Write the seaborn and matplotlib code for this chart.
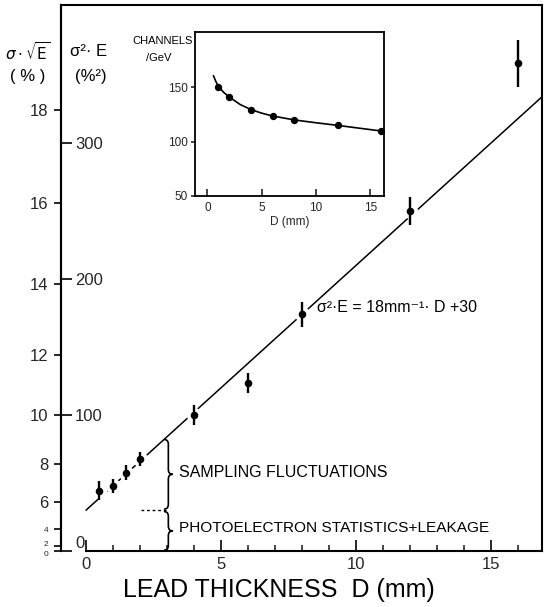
import numpy as np
import matplotlib
matplotlib.use("Agg")
import matplotlib.pyplot as plt
from matplotlib.path import Path
from matplotlib.patches import PathPatch
import seaborn as sns

# ---------------- data ----------------
lead_mm = [0.5, 1.0, 1.5, 2.0, 4.0, 6.0, 8.0, 12.0, 16.0]
sigma2E = [44.3, 47.8, 57.6, 67.6, 100.0, 123.8, 174.0, 250.0, 358.6]
sigma2E_err = [7.0, 5.5, 5.6, 5.2, 7.4, 7.4, 9.2, 10.0, 17.3]

fit_mm = [0.0, 16.89]
fit_sigma2E = [30.0, 334.0]

inset_mm = [1, 2, 4, 6, 8, 12, 16]
inset_channels = [150.0, 140.8, 129.1, 123.3, 119.7, 114.7, 109.5]
inset_curve_mm = [0.55, 0.75, 1.0, 1.5, 2.0, 3.0, 4.0, 5.0, 6.0, 8.0, 10.0, 12.0, 14.0, 16.2]
inset_curve_ch = [160.4, 155.5, 150.5, 145.0, 140.9, 134.0, 129.3, 126.0, 123.4,
                  119.8, 117.2, 114.8, 112.2, 109.4]

x_major = [0, 5, 10, 15]
x_minor = list(range(0, 17))
sqrtE_ticks = [0, 2, 4, 6, 8, 10, 12, 14, 16, 18]
sigma2E_ticks = [0, 100, 200, 300]
inset_xticks = [0, 5, 10, 15]
inset_yticks = [50, 100, 150]

# ---------------- style ----------------
sns.set_style("ticks")
plt.rcParams["font.family"] = ["Liberation Sans", "DejaVu Sans"]
plt.rcParams["mathtext.fontset"] = "dejavusans"
plt.rcParams["text.color"] = "black"
plt.rcParams["axes.edgecolor"] = "black"

W, H = 549, 607
fig = plt.figure(figsize=(W / 100, H / 100), dpi=100)
fig.patch.set_facecolor("white")


def fx(px):
    return px / W


def fy(py):
    return 1 - py / H


# ---------------- main axes ----------------
ax = fig.add_axes([fx(61), fy(551), (542 - 61) / W, (551 - 5) / H])
ax.set_xlim(-0.926, 16.89)
ax.set_ylim(0, 401.5)
for s in ax.spines.values():
    s.set_linewidth(1.5)
    s.set_color("black")
ax.spines["bottom"].set_bounds(0, 16.89)

# fit line
sns.lineplot(x=fit_mm, y=fit_sigma2E, ax=ax, color="black", linewidth=1.1,
             sort=False, estimator=None, zorder=2)
# white halo to break the line around points
ax.scatter(lead_mm, sigma2E, s=120, color="white", linewidths=0, zorder=3)
ax.errorbar(lead_mm, sigma2E, yerr=sigma2E_err, fmt="none", ecolor="black",
            elinewidth=1.7, capsize=0, zorder=4)
sns.scatterplot(x=lead_mm, y=sigma2E, ax=ax, color="black", s=30,
                edgecolor="black", linewidth=0, zorder=5)

# x axis ticks
ax.set_xticks(x_major)
ax.set_xticks(x_minor, minor=True)
ax.set_xticklabels([str(v) for v in x_major])
ax.tick_params(axis="x", which="major", direction="in", length=8, width=1.4,
               pad=4, labelsize=12, top=False)
ax.tick_params(axis="x", which="minor", direction="in", length=4, width=1.2, top=False)

# sigma^2 E axis (inner ticks on the left spine)
ax.set_yticks(sigma2E_ticks)
ax.set_yticklabels([str(v) for v in sigma2E_ticks])
ax.tick_params(axis="y", direction="in", length=8, width=1.4, pad=-10,
               labelsize=12, right=False)
for t, v in zip(ax.get_yticklabels(), sigma2E_ticks):
    t.set_horizontalalignment("left")
    if v == 0:
        t.set_verticalalignment("bottom")


def fwd(v):
    v = np.asarray(v, float)
    return np.sign(v) * np.sqrt(np.abs(v))


def inv(v):
    v = np.asarray(v, float)
    return np.sign(v) * v ** 2


sec = ax.secondary_yaxis("left", functions=(fwd, inv))
sec.set_yticks(sqrtE_ticks)
sec.set_yticklabels([str(v) for v in sqrtE_ticks])
sec.tick_params(direction="out", length=5, width=1.4, pad=4, labelsize=12)
sec.spines["left"].set_linewidth(1.5)
for t, v in zip(sec.get_yticklabels(), sqrtE_ticks):
    if v <= 4:
        t.set_fontsize(6)
    if v == 0:
        t.set_verticalalignment("top")
    if v == 2:
        t.set_verticalalignment("baseline")


# braces
def brace(axis, x, y0, y1, w, h):
    ym = (y0 + y1) / 2
    verts = [(x - w, y1), (x, y1), (x, y1 - h), (x, ym + h), (x, ym), (x + w, ym),
             (x, ym), (x, ym - h), (x, y0 + h), (x, y0), (x - w, y0)]
    codes = [Path.MOVETO, Path.CURVE3, Path.CURVE3, Path.LINETO, Path.CURVE3,
             Path.CURVE3, Path.CURVE3, Path.CURVE3, Path.LINETO, Path.CURVE3, Path.CURVE3]
    axis.add_patch(PathPatch(Path(verts, codes), fill=False, lw=1.2,
                             edgecolor="black", zorder=3))


brace(ax, 3.05, 30.8, 82.0, 0.16, 3.5)
brace(ax, 3.05, 0.6, 29.0, 0.16, 3.5)
ax.plot([2.05, 2.95], [30, 30], color="black", lw=1.0, ls=(0, (2, 2)))

ax.text(3.45, 57.4, "SAMPLING FLUCTUATIONS", va="center", ha="left", fontsize=11.5)
ax.text(3.45, 17.0, "PHOTOELECTRON STATISTICS+LEAKAGE", va="center", ha="left",
        fontsize=11.1)
ax.text(8.54, 178.7, "σ²·E = 18mm⁻¹· D +30", va="center", ha="left", fontsize=11.5)

# axis titles
fig.text(fx(28), fy(52), r"$\sigma\cdot\sqrt{\mathrm{E}}$", ha="center", va="center",
         fontsize=11)
fig.text(fx(28), fy(77), "( % )", ha="center", va="center", fontsize=12)
fig.text(fx(89), fy(52), "σ²· E", ha="center", va="center", fontsize=12)
fig.text(fx(91), fy(77), "(%²)", ha="center", va="center", fontsize=12)
fig.text(fx(279), fy(590), "LEAD THICKNESS  D (mm)", ha="center", va="center",
         fontsize=18)

# ---------------- inset ----------------
axi = fig.add_axes([fx(195), fy(196), (384 - 195) / W, (196 - 32) / H])
axi.set_xlim(-1.15, 16.25)
axi.set_ylim(50, 200.5)
for s in axi.spines.values():
    s.set_linewidth(1.3)
    s.set_color("black")
sns.lineplot(x=inset_curve_mm, y=inset_curve_ch, ax=axi, color="black", linewidth=1.2,
             sort=False, estimator=None)
sns.scatterplot(x=inset_mm, y=inset_channels, ax=axi, color="black", s=28,
                edgecolor="black", linewidth=0, zorder=5)
axi.set_xticks(inset_xticks)
axi.set_yticks(inset_yticks)
axi.tick_params(axis="x", direction="in", length=5, width=1.2, pad=4, labelsize=8.5)
axi.tick_params(axis="y", direction="out", length=3, width=1.2, pad=2, labelsize=8.5)
axi.set_xlabel("D (mm)", fontsize=8.5, labelpad=2)
axi.set_ylabel("")
fig.text(fx(163), fy(41), "CHANNELS", ha="center", va="center", fontsize=8)
fig.text(fx(159), fy(58), "/GeV", ha="center", va="center", fontsize=8)

fig.savefig("out.png", dpi=100, facecolor="white")
